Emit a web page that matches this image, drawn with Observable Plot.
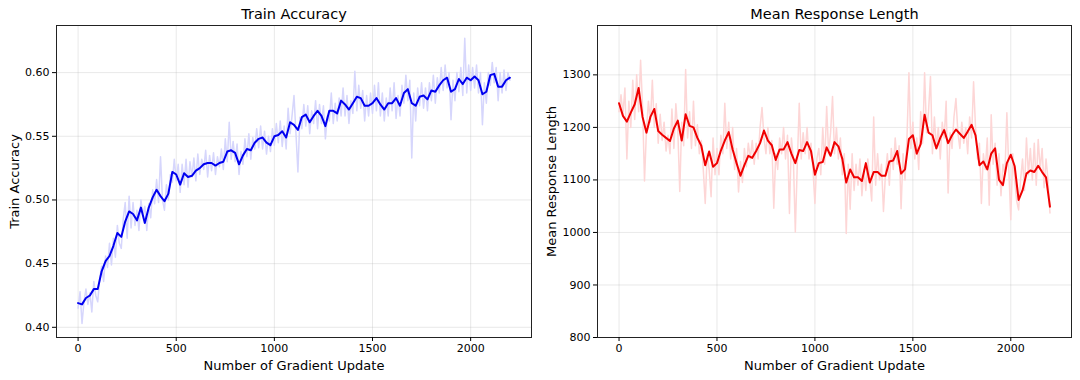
<!DOCTYPE html>
<html>
<head>
<meta charset="utf-8">
<script src="https://cdn.jsdelivr.net/npm/d3@7"></script>
<script src="https://cdn.jsdelivr.net/npm/@observablehq/plot@0.6"></script>
<style>
  html, body { margin: 0; padding: 0; background: #fff; }
  #wrap { display: flex; width: 1080px; height: 380px; }
  #wrap > div { width: 540px; height: 380px; }
</style>
</head>
<body>
<div id="wrap"><div id="left"></div><div id="right"></div></div>
<script>
// ---------- data ----------
const xTicks = [0, 500, 1000, 1500, 2000];
const accTicks = [0.40, 0.45, 0.50, 0.55, 0.60];
const lenTicks = [800, 900, 1000, 1100, 1200, 1300];

const rawStep = 10;     // raw values every 10 gradient updates (0..2200)
const smoothStep = 20;  // smoothed values every 20 gradient updates (0..2200)

const rawAcc = [
  0.415, 0.428, 0.403, 0.420, 0.430, 0.418, 0.427, 0.412, 0.436, 0.425,
  0.420, 0.438, 0.448, 0.436, 0.456, 0.447, 0.466, 0.449, 0.470, 0.455,
  0.480, 0.466, 0.462, 0.485, 0.498, 0.470, 0.503, 0.478, 0.498, 0.480,
  0.492, 0.476, 0.500, 0.488, 0.495, 0.476, 0.497, 0.486, 0.508, 0.497,
  0.516, 0.498, 0.534, 0.500, 0.492, 0.512, 0.500, 0.520, 0.514, 0.532,
  0.515, 0.528, 0.506, 0.528, 0.512, 0.532, 0.510, 0.530, 0.518, 0.533,
  0.515, 0.536, 0.520, 0.532, 0.524, 0.539, 0.518, 0.535, 0.523, 0.537,
  0.520, 0.534, 0.526, 0.540, 0.524, 0.548, 0.530, 0.561, 0.532, 0.546,
  0.530, 0.544, 0.520, 0.538, 0.528, 0.548, 0.534, 0.552, 0.532, 0.549,
  0.540, 0.556, 0.541, 0.558, 0.540, 0.554, 0.536, 0.550, 0.538, 0.556,
  0.543, 0.560, 0.545, 0.562, 0.542, 0.558, 0.540, 0.572, 0.552, 0.566,
  0.582, 0.552, 0.522, 0.565, 0.556, 0.575, 0.558, 0.574, 0.552, 0.570,
  0.560, 0.578, 0.556, 0.575, 0.560, 0.574, 0.548, 0.566, 0.562, 0.584,
  0.560, 0.576, 0.562, 0.580, 0.566, 0.588, 0.566, 0.582, 0.560, 0.578,
  0.568, 0.601, 0.570, 0.590, 0.572, 0.586, 0.562, 0.582, 0.566, 0.584,
  0.568, 0.590, 0.570, 0.592, 0.566, 0.584, 0.562, 0.580, 0.566, 0.588,
  0.570, 0.592, 0.564, 0.582, 0.566, 0.590, 0.576, 0.598, 0.578, 0.594,
  0.533, 0.584, 0.562, 0.588, 0.574, 0.592, 0.572, 0.588, 0.570, 0.592,
  0.578, 0.598, 0.576, 0.596, 0.584, 0.604, 0.586, 0.606, 0.588, 0.600,
  0.563, 0.594, 0.578, 0.600, 0.585, 0.604, 0.582, 0.627, 0.584, 0.606,
  0.586, 0.604, 0.588, 0.606, 0.584, 0.600, 0.559, 0.592, 0.576, 0.600,
  0.590, 0.608, 0.592, 0.604, 0.578, 0.600, 0.584, 0.602, 0.586, 0.600,
  0.594
];

const smoothAcc = [
  0.419, 0.418, 0.423, 0.425, 0.430, 0.430, 0.444, 0.452, 0.456, 0.464,
  0.474, 0.471, 0.483, 0.491, 0.489, 0.484, 0.494, 0.482, 0.494, 0.502,
  0.508, 0.503, 0.499, 0.505, 0.522, 0.520, 0.512, 0.521, 0.518, 0.519,
  0.523, 0.525, 0.528, 0.529, 0.529, 0.527, 0.529, 0.530, 0.538, 0.539,
  0.537, 0.528, 0.535, 0.540, 0.539, 0.545, 0.548, 0.549, 0.545, 0.543,
  0.550, 0.551, 0.554, 0.549, 0.561, 0.559, 0.555, 0.565, 0.567, 0.561,
  0.566, 0.570, 0.566, 0.558, 0.570, 0.570, 0.568, 0.578, 0.575, 0.571,
  0.576, 0.581, 0.580, 0.574, 0.574, 0.576, 0.580, 0.575, 0.571, 0.576,
  0.576, 0.580, 0.574, 0.584, 0.587, 0.576, 0.574, 0.581, 0.582, 0.579,
  0.586, 0.585, 0.590, 0.594, 0.596, 0.585, 0.587, 0.595, 0.591, 0.596,
  0.594, 0.597, 0.594, 0.583, 0.585, 0.598, 0.599, 0.589, 0.589, 0.594,
  0.596
];

const rawLen = [
  1230, 1262, 1225, 1275, 1140, 1250, 1200, 1290, 1215, 1300,
  1230, 1328, 1240, 1098, 1195, 1250, 1210, 1290, 1200, 1245,
  1170, 1225, 1175, 1210, 1155, 1185, 1150, 1235, 1160, 1245,
  1195, 1078, 1210, 1165, 1310, 1180, 1230, 1160, 1250, 1165,
  1205, 1150, 1175, 1120, 1055, 1150, 1120, 1068, 1180, 1110,
  1160, 1110, 1185, 1150, 1246, 1160, 1210, 1140, 1200, 1120,
  1160, 1077, 1135, 1095, 1160, 1125, 1170, 1140, 1175, 1130,
  1170, 1140, 1200, 1238, 1180, 1150, 1200, 1150, 1175, 1046,
  1150, 1120, 1180, 1150, 1200, 1140, 1185, 1036, 1180, 1140,
  1001, 1130, 1246, 1140, 1190, 1150, 1200, 1140, 1170, 1120,
  1055, 1140, 1160, 1110, 1200, 1130, 1240, 1150, 1190, 1259,
  1150, 1200, 1140, 1180, 1110, 1150,  998, 1130, 1044, 1150,
  1080, 1130, 1090, 1140, 1070, 1120, 1080, 1140, 1100, 1060,
  1220, 1090, 1150, 1100, 1130, 1040, 1110, 1150, 1090, 1160,
  1120, 1180, 1130, 1165, 1045, 1150, 1100, 1180, 1304, 1160,
  1210, 1140, 1180, 1120, 1230, 1170, 1304, 1190, 1230, 1297,
  1150, 1220, 1160, 1200, 1140, 1210, 1180, 1250, 1075, 1190,
  1160, 1220, 1255, 1190, 1160, 1210, 1170, 1200, 1150, 1220,
  1180, 1287, 1200, 1140, 1170, 1055, 1150, 1120, 1180, 1052,
  1224, 1130, 1170, 1090, 1150, 1070, 1130, 1110, 1228, 1120,
  1024, 1150, 1100, 1060, 1043, 1100, 1140, 1080, 1180, 1110,
  1160, 1100, 1170, 1090, 1177, 1120, 1160, 1085, 1140, 1100,
  1037
];

const smoothLen = [
  1246, 1222, 1211, 1228, 1244, 1275, 1220, 1190, 1220, 1235,
  1193, 1186, 1180, 1174, 1198, 1213, 1175, 1225, 1203, 1200,
  1180, 1165, 1128, 1154, 1125, 1132, 1156, 1175, 1191, 1158,
  1132, 1108, 1128, 1146, 1142, 1155, 1170, 1194, 1175, 1166,
  1138, 1158, 1158, 1172, 1150, 1132, 1157, 1155, 1172, 1155,
  1110, 1132, 1134, 1162, 1146, 1172, 1164, 1140, 1095, 1120,
  1105, 1105, 1098, 1132, 1095, 1115, 1115, 1108, 1108, 1135,
  1137, 1155, 1112, 1120, 1178, 1185, 1150, 1168, 1224, 1190,
  1185, 1160, 1180, 1195, 1170, 1185, 1196, 1188, 1180, 1192,
  1205, 1185, 1128, 1135, 1120, 1150, 1160, 1100, 1090, 1132,
  1148, 1126, 1062, 1080, 1112, 1118, 1115, 1127, 1115, 1105,
  1049
];

// ---------- tables ----------
const toRows = (arr, step) => arr.map((v, i) => ({step: i * step, v}));
const accRaw = toRows(rawAcc, rawStep), accSmooth = toRows(smoothAcc, smoothStep);
const lenRaw = toRows(rawLen, rawStep), lenSmooth = toRows(smoothLen, smoothStep);

const FONT = "DejaVu Sans, Liberation Sans, sans-serif";

function panel({raw, smooth, yDomain, yTicks, yFormat, title, ylabel, rawColor, lineColor, marginLeft, ylabDx}) {
  return Plot.plot({
    width: 540,
    height: 380,
    marginLeft,
    marginRight: 9,
    marginTop: 25,
    marginBottom: 43,
    style: {fontFamily: FONT, fontSize: "11px", background: "#fff", color: "#000"},
    x: {domain: [-110, 2310]},
    y: {domain: yDomain},
    marks: [
      Plot.gridX(xTicks, {stroke: "#b0b0b0", strokeOpacity: 0.35, strokeWidth: 0.8}),
      Plot.gridY(yTicks, {stroke: "#b0b0b0", strokeOpacity: 0.35, strokeWidth: 0.8}),
      Plot.line(raw, {x: "step", y: "v", stroke: rawColor, strokeWidth: 1.5}),
      Plot.line(smooth, {x: "step", y: "v", stroke: lineColor, strokeWidth: 2, curve: "linear"}),
      Plot.frame({stroke: "#222", strokeWidth: 1}),
      Plot.axisX(xTicks, {tickSize: 4, tickPadding: 3, label: null, tickFormat: d3.format("d"), fontSize: 11}),
      Plot.axisY(yTicks, {tickSize: 4, tickPadding: 3, label: null, tickFormat: yFormat, fontSize: 11}),
      Plot.text([title], {frameAnchor: "top", lineAnchor: "middle", dy: -11, fontSize: 14.5, fill: "#000"}),
      Plot.text(["Number of Gradient Update"], {frameAnchor: "bottom", lineAnchor: "middle", dy: 28, fontSize: 13, fill: "#000"}),
      Plot.text([ylabel], {frameAnchor: "left", textAnchor: "middle", lineAnchor: "middle", dx: ylabDx, rotate: -90, fontSize: 13, fill: "#000"})
    ]
  });
}

document.getElementById("left").append(panel({
  raw: accRaw, smooth: accSmooth,
  yDomain: [0.392, 0.637], yTicks: accTicks, yFormat: d3.format(".2f"),
  title: "Train Accuracy", ylabel: "Train Accuracy",
  rawColor: "#d6d6fc", lineColor: "#0000f0", marginLeft: 56, ylabDx: -42
}));

document.getElementById("right").append(panel({
  raw: lenRaw, smooth: lenSmooth,
  yDomain: [800, 1394], yTicks: lenTicks, yFormat: d3.format("d"),
  title: "Mean Response Length", ylabel: "Mean Response Length",
  rawColor: "#fdd6d6", lineColor: "#f00000", marginLeft: 57, ylabDx: -46
}));
</script>
</body>
</html>
